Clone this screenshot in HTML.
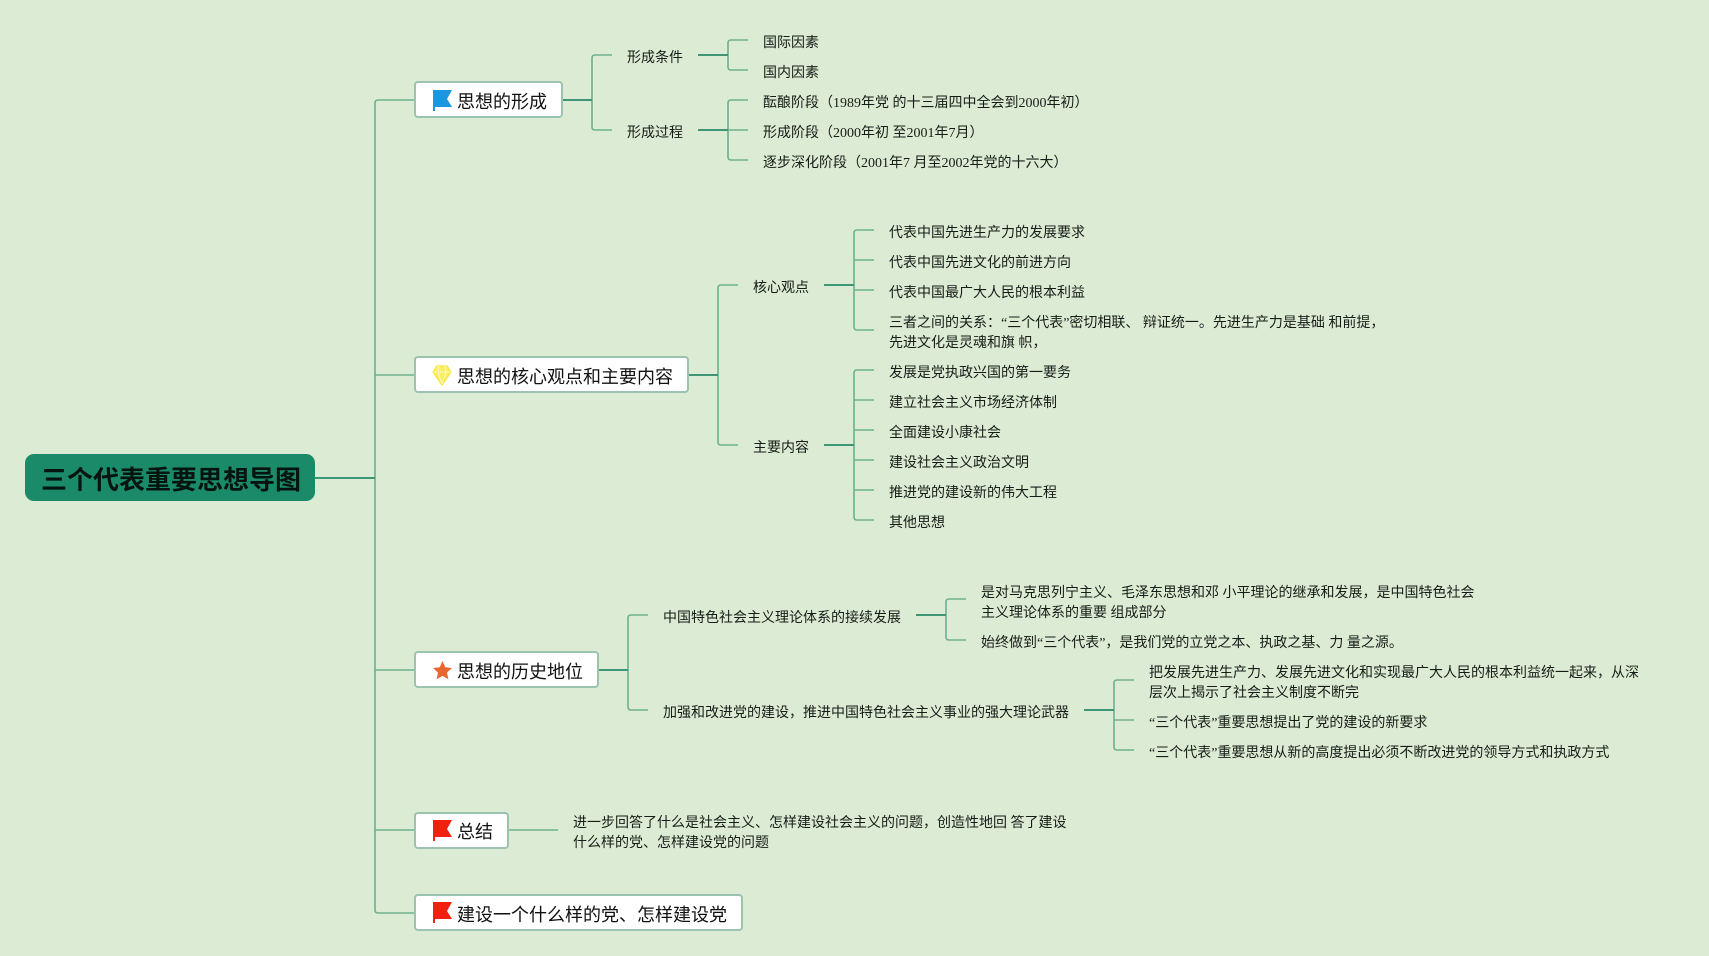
<!DOCTYPE html>
<html lang="zh">
<head>
<meta charset="utf-8">
<style>
html,body{margin:0;padding:0;background:#dcebd3;}
#c{position:relative;width:1709px;height:956px;overflow:hidden;background:#dcebd3;font-family:"Liberation Serif","WenQuanYi Zen Hei","Noto Sans CJK SC",sans-serif;color:#161c18;filter:blur(.35px);}
svg{position:absolute;left:0;top:0;}
.t{position:absolute;font-size:14px;line-height:20px;height:20px;white-space:nowrap;margin-top:2.5px;}
.n{position:absolute;box-sizing:border-box;background:#fff;border:2px solid #9cc2b0;border-radius:4px;height:37px;}
.l{position:absolute;font-size:18px;line-height:24px;height:24px;white-space:nowrap;color:#111;margin-top:1px;}
#r{position:absolute;left:25px;top:454px;width:290px;height:47px;background:#1a8a68;border-radius:9px;}
#rt{position:absolute;left:41px;top:462px;font-size:26px;line-height:36px;font-weight:bold;color:#06140f;white-space:nowrap;font-family:"Liberation Sans","Noto Sans CJK SC",sans-serif;}
</style>
</head>
<body>
<div id="c">
<svg width="1709" height="956" fill="none" stroke-linejoin="round">
  <g stroke="#6db18f" stroke-width="1.6">
    <path d="M415 100H378Q375 100 375 103V910Q375 913 378 913H415"/>
    <path d="M375 375H415M375 670H415M375 830H415"/>
    <path d="M612 55H595Q592 55 592 58V127Q592 130 595 130H612"/>
    <path d="M748 40H731Q728 40 728 43V67Q728 70 731 70H748"/>
    <path d="M748 100H731Q728 100 728 103V157Q728 160 731 160H748M728 130H748"/>
    <path d="M738 285H721Q718 285 718 288V442Q718 445 721 445H738"/>
    <path d="M874 230H857Q854 230 854 233V327Q854 330 857 330H874M854 260H874M854 290H874"/>
    <path d="M874 370H857Q854 370 854 373V517Q854 520 857 520H874M854 400H874M854 430H874M854 460H874M854 490H874"/>
    <path d="M648 615H631Q628 615 628 618V707Q628 710 631 710H648"/>
    <path d="M966 599H949Q946 599 946 602V637Q946 640 949 640H966"/>
    <path d="M1134 680H1117Q1114 680 1114 683V747Q1114 750 1117 750H1134M1114 720H1134"/>
    <path d="M508 830H558"/>
  </g>
  <g stroke="#3f9674" stroke-width="2">
    <path d="M315 478H375"/>
    <path d="M562 100H592M688 375H718M598 670H628"/>
    <path d="M698 55H728M698 130H728M824 285H854M824 445H854M916 615H946M1084 710H1114"/>
  </g>
</svg>

<div id="r"></div>
<div id="rt">三个代表重要思想导图</div>

<div class="n" style="left:414px;top:81px;width:149px"></div>
<div class="n" style="left:414px;top:356px;width:275px"></div>
<div class="n" style="left:414px;top:651px;width:185px"></div>
<div class="n" style="left:414px;top:812px;width:95px"></div>
<div class="n" style="left:414px;top:894px;width:329px"></div>

<svg width="1709" height="956">
  <path d="M433 90H452L447 99L452 107H435V111H433Z" fill="#1a97df"/>
  <path d="M437 366H447L451 372L442 385L433 372Z" fill="#fbee62" stroke="#f5e84c" stroke-width="1.5" stroke-linejoin="round"/>
  <path d="M433 372H451M439 366L438 372L442 384M445 366L446 372L442 384" stroke="#fff9b8" stroke-width="1" fill="none"/>
  <path d="M442.500 661L445.300 667.300L452 668L447 672.600L448.400 679.300L442.500 675.900L436.600 679.300L438 672.600L433 668L439.700 667.300Z" fill="#e8662f"/>
  <path d="M433 820H452L447 829L452 837H435V841H433Z" fill="#f0220f"/>
  <path d="M433 902H452L447 911L452 919H435V923H433Z" fill="#f0220f"/>
</svg>

<div class="l" style="left:457px;top:89px">思想的形成</div>
<div class="l" style="left:457px;top:364px">思想的核心观点和主要内容</div>
<div class="l" style="left:457px;top:659px">思想的历史地位</div>
<div class="l" style="left:457px;top:819px">总结</div>
<div class="l" style="left:457px;top:902px">建设一个什么样的党、怎样建设党</div>

<div class="t" style="left:627px;top:46px">形成条件</div>
<div class="t" style="left:627px;top:121px">形成过程</div>
<div class="t" style="left:763px;top:31px">国际因素</div>
<div class="t" style="left:763px;top:61px">国内因素</div>
<div class="t" style="left:763px;top:91px">酝酿阶段（1989年党 的十三届四中全会到2000年初）</div>
<div class="t" style="left:763px;top:121px">形成阶段（2000年初 至2001年7月）</div>
<div class="t" style="left:763px;top:151px">逐步深化阶段（2001年7 月至2002年党的十六大）</div>

<div class="t" style="left:753px;top:276px">核心观点</div>
<div class="t" style="left:753px;top:436px">主要内容</div>
<div class="t" style="left:889px;top:221px">代表中国先进生产力的发展要求</div>
<div class="t" style="left:889px;top:251px">代表中国先进文化的前进方向</div>
<div class="t" style="left:889px;top:281px">代表中国最广大人民的根本利益</div>
<div class="t" style="left:889px;top:311px">三者之间的关系：“三个代表”密切相联、 辩证统一。先进生产力是基础 和前提，</div>
<div class="t" style="left:889px;top:331px">先进文化是灵魂和旗 帜，</div>
<div class="t" style="left:889px;top:361px">发展是党执政兴国的第一要务</div>
<div class="t" style="left:889px;top:391px">建立社会主义市场经济体制</div>
<div class="t" style="left:889px;top:421px">全面建设小康社会</div>
<div class="t" style="left:889px;top:451px">建设社会主义政治文明</div>
<div class="t" style="left:889px;top:481px">推进党的建设新的伟大工程</div>
<div class="t" style="left:889px;top:511px">其他思想</div>

<div class="t" style="left:663px;top:606px">中国特色社会主义理论体系的接续发展</div>
<div class="t" style="left:663px;top:701px">加强和改进党的建设，推进中国特色社会主义事业的强大理论武器</div>
<div class="t" style="left:981px;top:581px">是对马克思列宁主义、毛泽东思想和邓 小平理论的继承和发展，是中国特色社会</div>
<div class="t" style="left:981px;top:601px">主义理论体系的重要 组成部分</div>
<div class="t" style="left:981px;top:631px">始终做到“三个代表”，是我们党的立党之本、执政之基、力 量之源。</div>
<div class="t" style="left:1149px;top:661px">把发展先进生产力、发展先进文化和实现最广大人民的根本利益统一起来，从深</div>
<div class="t" style="left:1149px;top:681px">层次上揭示了社会主义制度不断完</div>
<div class="t" style="left:1149px;top:711px">“三个代表”重要思想提出了党的建设的新要求</div>
<div class="t" style="left:1149px;top:741px">“三个代表”重要思想从新的高度提出必须不断改进党的领导方式和执政方式</div>

<div class="t" style="left:573px;top:811px">进一步回答了什么是社会主义、怎样建设社会主义的问题，创造性地回 答了建设</div>
<div class="t" style="left:573px;top:831px">什么样的党、怎样建设党的问题</div>
</div>
</body>
</html>
